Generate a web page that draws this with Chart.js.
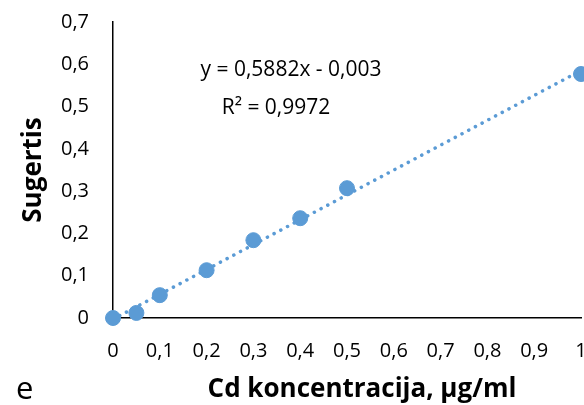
<!DOCTYPE html>
<html lang="lt">
<head>
  <meta charset="UTF-8">
  <title>Cd kalibracija</title>
  <script src="https://cdn.jsdelivr.net/npm/chart.js"></script>
  <style>
    html, body { margin: 0; padding: 0; background: #fff; }
    #wrap { width: 584px; height: 405px; }
  </style>
</head>
<body>
<div id="wrap"><canvas id="calChart"></canvas></div>

<script>
  // measured points
  const concX = [0, 0.05, 0.1, 0.2, 0.3, 0.4, 0.5, 1.0];
  const absY = [0, 0.012, 0.054, 0.113, 0.184, 0.236, 0.307, 0.577];
  // linear trend line end points
  const trendX = [0, 1];
  const trendY = [-0.003, 0.5852];
  const eqText = 'y = 0,5882x - 0,003';
  const r2Text = 'R² = 0,9972';
  const xTitle = 'Cd koncentracija, µg/ml';

  const FONT = '"Open Sans", sans-serif';
  const BLUE = '#5B9BD5';

  const fmt = v => String(Number(v.toFixed(1))).replace('.', ',');

  const ctx = document.getElementById('calChart').getContext('2d');
  new Chart(ctx, {
    type: 'scatter',
    data: {
      datasets: [{
        label: 'Sugertis',
        data: concX.map((x, i) => ({ x: x, y: absY[i] })),
        backgroundColor: BLUE,
        borderColor: BLUE,
        pointRadius: 7.5,
        clip: false,
        order: 1
      }, {
        type: 'line',
        label: 'Trend',
        data: trendX.map((x, i) => ({ x: x, y: trendY[i] })),
        borderColor: BLUE,
        borderWidth: 3.5,
        borderDash: [0.1, 7.5],
        borderCapStyle: 'round',
        pointRadius: 0,
        fill: false,
        order: 2
      }]
    },
    options: {
      responsive: true,
      maintainAspectRatio: false,
      animation: false,
      layout: { autoPadding: false, padding: { top: 22, right: 3, left: 0, bottom: 0 } },
      plugins: { legend: { display: false }, tooltip: { enabled: false } },
      scales: {
        x: {
          type: 'linear',
          min: 0, max: 1,
          grid: { display: false, drawTicks: false },
          border: { display: true, color: '#000', width: 1.5 },
          ticks: { stepSize: 0.1, padding: 21, color: '#000', font: { family: FONT, size: 20 }, callback: fmt, maxRotation: 0, autoSkip: false },
          afterFit: s => { s.height = 87; s.paddingRight = 0; s.paddingLeft = 0; }
        },
        y: {
          min: 0, max: 0.7,
          grid: { display: false, drawTicks: false },
          border: { display: true, color: '#000', width: 1.5 },
          ticks: { stepSize: 0.1, padding: 24, color: '#000', font: { family: FONT, size: 20 }, callback: fmt },
          title: { display: true, text: 'Sugertis', color: '#000', font: { family: FONT, size: 26, weight: 'bold' }, padding: { top: 18, bottom: 0 } },
          afterFit: s => { s.width = 113; s.paddingTop = 0; s.paddingBottom = 0; }
        }
      }
    },
    plugins: [{
      id: 'labels',
      afterDraw(chart) {
        const c = chart.ctx;
        c.save();
        c.fillStyle = '#000';
        c.textAlign = 'center';
        c.textBaseline = 'middle';
        c.font = '21px ' + FONT;
        c.fillText(eqText, 291, 70);
        c.fillText(r2Text, 276, 108);
        c.font = 'bold 26px ' + FONT;
        c.textBaseline = 'alphabetic';
        c.fillText(xTitle, 362, 397);
        c.textAlign = 'left';
        c.font = '31px ' + FONT;
        c.fillText('e', 16, 399);
        c.restore();
      }
    }]
  });
</script>
</body>
</html>
